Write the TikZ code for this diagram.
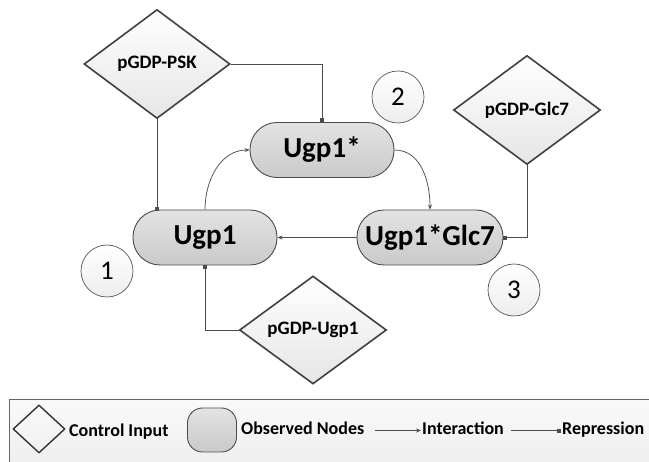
\documentclass[tikz,border=0pt]{standalone}
\usepackage{fontspec}
\setmainfont{Carlito}
\usetikzlibrary{shapes.geometric,arrows.meta}

\tikzset{
  ctrl/.style={diamond, draw=black!75, line width=1.6pt, inner sep=0pt,
    top color=white, bottom color=black!10, font=\bfseries\fontsize{19}{21}\selectfont},
  obs/.style={rectangle, rounded corners=27pt, draw=black!70, line width=0.9pt,
    minimum width=144pt, minimum height=55pt, inner sep=0pt,
    top color=black!11, bottom color=black!21, font=\bfseries\fontsize{29}{31}\selectfont},
  stage/.style={circle, draw=black!65, line width=0.7pt, minimum size=52pt, inner sep=0pt,
    top color=white, bottom color=black!7, font=\fontsize{27}{29}\selectfont},
  conn/.style={draw=black!70, line width=0.75pt},
  act/.style={conn, -{Stealth[length=5pt,width=4pt]}},
  rep/.style={conn, -{Square[length=3.6pt,width=3.6pt]}},
  legtext/.style={anchor=west, inner sep=1pt, text height=12pt, text depth=4pt,
    font=\bfseries\fontsize{18}{20}\selectfont},
}

\begin{document}
\begin{tikzpicture}[x=1pt, y=-1pt]
  \path[use as bounding box, clip] (0,0) rectangle (649,462);
  \fill[white] (0,0) rectangle (649,462);

  % control inputs
  \node[ctrl, minimum width=146pt, minimum height=109pt] (psk) at (157,64) {pGDP-PSK};
  \node[ctrl, minimum width=147pt, minimum height=109pt] (glc) at (527,110) {pGDP-Glc7};
  \node[ctrl, minimum width=147pt, minimum height=108pt] (pu) at (313,330) {pGDP-Ugp1};

  % observed nodes
  \node[obs] (ugp1s) at (322,150) {Ugp1*};
  \node[obs] (ugp1) at (205,237.5) {Ugp1};
  \node[obs, minimum width=146pt] (ugpg) at (430,237.5) {Ugp1*Glc7};

  % stage markers
  \node[stage] (n1) at (107,271) {1};
  \node[stage] (n2) at (398,97) {2};
  \node[stage] (n3) at (514,290) {3};

  % interactions
  \draw[act] (ugp1.north) to[out=90, in=180] (ugp1s.west);
  \draw[act] (ugp1s.east) to[out=0, in=90] (ugpg.north);
  \draw[act] (ugpg.west) -- (ugp1.east);

  % repressions
  \draw[rep] (psk.east) -| (ugp1s.north);
  \draw[rep] (psk.south) -- (psk.south |- 0,210.5);
  \draw[rep] (glc.south) |- (ugpg.east);
  \draw[rep] (pu.west) -| (ugp1.south);

  % legend
  \draw[draw=black!60, line width=0.9pt, top color=black!2, bottom color=black!9]
    (9,399) rectangle (700,500);
  \node[diamond, draw=black!80, line width=1.4pt, inner sep=0pt,
    minimum width=52pt, minimum height=48pt] (lgc) at (39,429) {};
  \node[legtext] (lgct) at (68,433) {Control Input};
  \node[rectangle, rounded corners=15pt, draw=black!70, line width=0.9pt,
    minimum width=49pt, minimum height=44pt, top color=black!11, bottom color=black!21] (lgo) at (212,430) {};
  \node[legtext] (lgot) at (240,430.5) {Observed Nodes};
  \node[legtext] (lgit) at (421,430.5) {Interaction};
  \node[legtext] (lgrt) at (561,430.5) {Repression};
  \draw[act] ([xshift=9pt]lgot.east) -- (lgit.west);
  \draw[rep] ([xshift=6pt]lgit.east) -- (lgrt.west);
\end{tikzpicture}
\end{document}
